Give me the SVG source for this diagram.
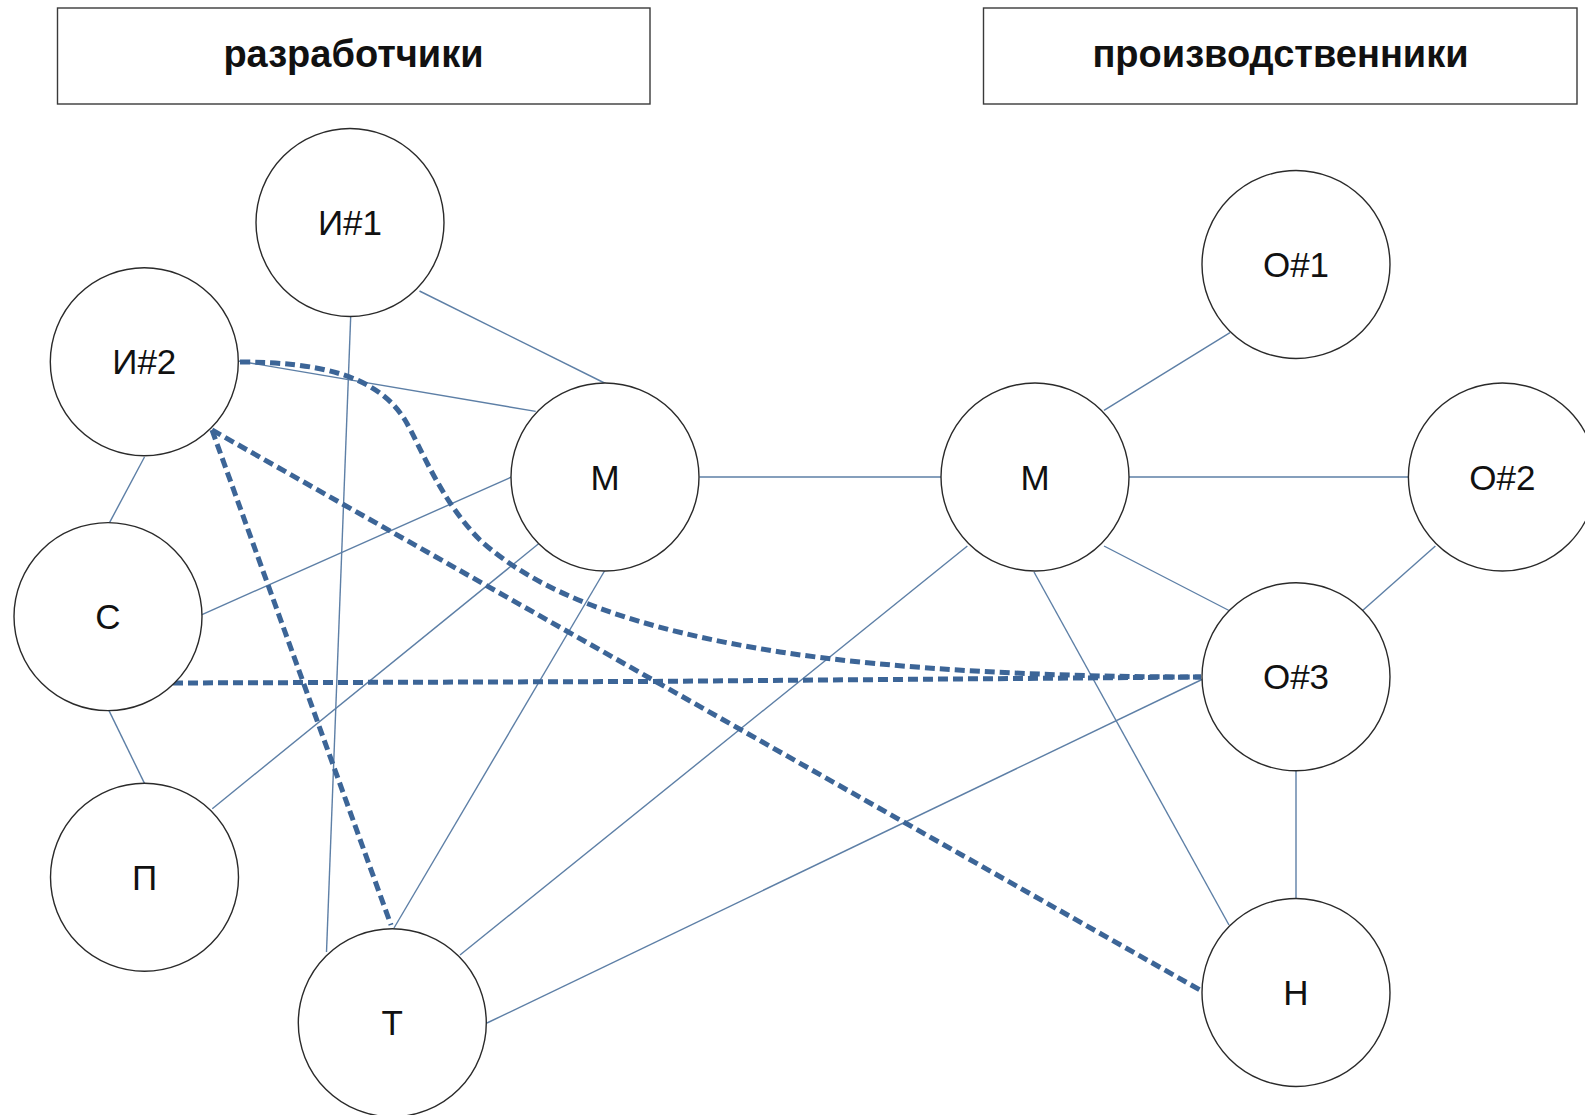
<svg xmlns="http://www.w3.org/2000/svg" width="1585" height="1115" viewBox="0 0 1585 1115">
<style>
  .box { fill: #ffffff; stroke: #3a3a3a; stroke-width: 1.4; }
  .hdr { font-family: "Liberation Sans", Arial, sans-serif; font-weight: bold; font-size: 38px; fill: #111; text-anchor: middle; }
  .node circle { fill: #ffffff; stroke: #2a2a2a; stroke-width: 1.4; }
  .node text { font-family: "Liberation Sans", Arial, sans-serif; font-size: 35px; fill: #111; text-anchor: middle; }
  .solid { stroke: #5d7fa6; stroke-width: 1.4; fill: none; }
  .dash { stroke: #3c6597; stroke-width: 5; fill: none; stroke-dasharray: 10 5; }
</style>
<rect width="1585" height="1115" fill="#ffffff"/>
<g id="header-dev">
  <rect class="box" x="57.5" y="8" width="592.5" height="96"/>
  <text class="hdr" x="353.5" y="67">разработчики</text>
</g>
<g id="header-prod">
  <rect class="box" x="983.5" y="8" width="593.5" height="96"/>
  <text class="hdr" x="1280.5" y="67">производственники</text>
</g>
<g id="connectors">
  <line class="solid" x1="419.5" y1="291" x2="606.5" y2="384"/>
  <line class="solid" x1="350.7" y1="316.4" x2="326.5" y2="952"/>
  <line class="solid" x1="238.5" y1="361" x2="535.7" y2="411.4"/>
  <line class="solid" x1="144.5" y1="457" x2="109" y2="523.6"/>
  <line class="solid" x1="202" y1="614.6" x2="511.5" y2="477"/>
  <line class="solid" x1="109" y1="710.6" x2="144.5" y2="783.4"/>
  <line class="solid" x1="212.3" y1="808.7" x2="539.8" y2="542.8"/>
  <line class="solid" x1="604.5" y1="571" x2="394" y2="928"/>
  <line class="solid" x1="699.5" y1="477" x2="942" y2="477"/>
  <line class="solid" x1="1104" y1="410.4" x2="1230" y2="332.6"/>
  <line class="solid" x1="1129" y1="477" x2="1408" y2="477"/>
  <line class="solid" x1="1104" y1="546" x2="1229" y2="610.5"/>
  <line class="solid" x1="967.4" y1="546" x2="460" y2="955"/>
  <line class="solid" x1="1034" y1="572" x2="1229" y2="925"/>
  <line class="solid" x1="1435.4" y1="546" x2="1362.6" y2="610.5"/>
  <line class="solid" x1="1203" y1="679" x2="487" y2="1023"/>
  <line class="solid" x1="1296" y1="771" x2="1296" y2="898.6"/>
  <path class="dash" d="M240,362 C320,362 378,376 405,420 C420,445 440,500 480,540 C540,595 640,630 780,652 C900,670 1050,677 1201,677"/>
  <line class="dash" x1="212" y1="430" x2="1200" y2="990"/>
  <line class="dash" x1="212" y1="430" x2="391" y2="925"/>
  <path class="dash" d="M173,683 L640,681.5 L1201,677"/>
</g>
<g id="node-i1" class="node"><circle cx="350" cy="222.5" r="94"/><text x="350" y="235">И#1</text></g>
<g id="node-i2" class="node"><circle cx="144.3" cy="361.8" r="94"/><text x="144.3" y="374.3">И#2</text></g>
<g id="node-m-left" class="node"><circle cx="605" cy="477" r="94"/><text x="605" y="489.5">М</text></g>
<g id="node-c" class="node"><circle cx="108" cy="616.6" r="94"/><text x="108" y="629.1">С</text></g>
<g id="node-p" class="node"><circle cx="144.5" cy="877.3" r="94"/><text x="144.5" y="889.8">П</text></g>
<g id="node-t" class="node"><circle cx="392.3" cy="1022.8" r="94"/><text x="392.3" y="1035.3">Т</text></g>
<g id="node-m-right" class="node"><circle cx="1035" cy="477" r="94"/><text x="1035" y="489.5">М</text></g>
<g id="node-o1" class="node"><circle cx="1296" cy="264.5" r="94"/><text x="1296" y="277">О#1</text></g>
<g id="node-o2" class="node"><circle cx="1502.4" cy="477" r="94"/><text x="1502.4" y="489.5">О#2</text></g>
<g id="node-o3" class="node"><circle cx="1296" cy="676.8" r="94"/><text x="1296" y="689.3">О#3</text></g>
<g id="node-h" class="node"><circle cx="1296" cy="992.5" r="94"/><text x="1296" y="1005">Н</text></g>
</svg>
